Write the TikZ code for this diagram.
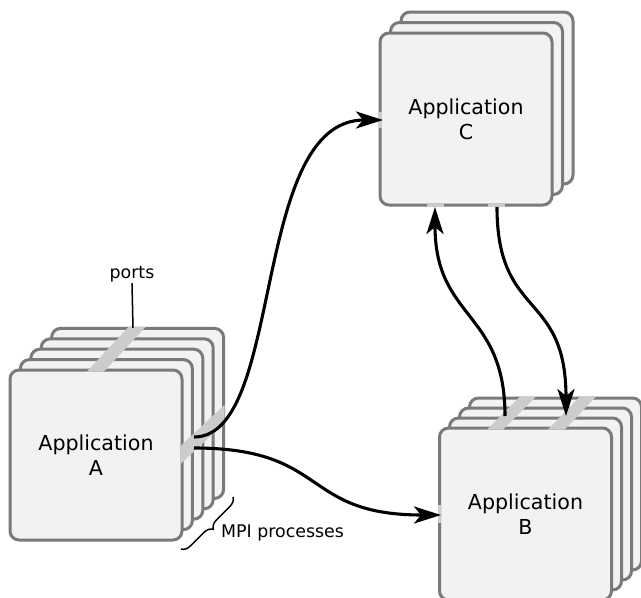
\documentclass[tikz,border=0pt]{standalone}
\usepackage{fontspec}
\setmainfont{DejaVu Sans}
\usetikzlibrary{arrows.meta,decorations.pathreplacing}
\definecolor{boxline}{RGB}{122,122,122}
\definecolor{boxfill}{RGB}{242,242,242}
\definecolor{portcol}{RGB}{204,204,204}
\begin{document}
\begin{tikzpicture}[x=1pt,y=-1pt,
  procbox/.style={draw=boxline, fill=boxfill, line width=3pt, rounded corners=9pt,
    minimum width=172pt, minimum height=172pt, inner sep=0pt,
    font=\fontsize{20.6}{25}\selectfont, align=center},
  portband/.style={fill=portcol, draw=none},
  flow/.style={line width=3.1pt, -{Stealth[length=27pt,width=17pt,inset=7pt]}},
  lbl/.style={font=\fontsize{17.4}{20}\selectfont, inner sep=1pt}]
\useasboundingbox (0,0) rectangle (641,598);

% Application A stack
\foreach \k in {4,3,2,1}
  \node[procbox, minimum height=170pt] (A\k) at (96+10.4*\k, 455-10.4*\k) {};
\node[procbox, minimum height=170pt] (A) at (96,455) {Application\\A};

% Application C stack
\foreach \k in {2,1}
  \node[procbox] (C\k) at (466+10.5*\k, 119-10.5*\k) {};
\node[procbox] (C) at (466,119) {Application\\C};

% Application B stack
\foreach \k in {3,2,1}
  \node[procbox] (B\k) at (525.5+10*\k, 514-10*\k) {};
\node[procbox] (B) at (525.5,514) {Application\\B};

% ports
\fill[portband] (87,371.5) -- (104,371.5) -- (146,326.5) -- (129,326.5) -- cycle;
\fill[portband] (180.5,446) -- (180.5,464) -- (224.5,423) -- (224.5,405) -- cycle;
\fill[portband] (378.5,112) rectangle (381.5,128);
\fill[portband] (427,203.5) rectangle (444,206.5);
\fill[portband] (488,203.5) rectangle (505,206.5);
\fill[portband] (437.5,505) rectangle (440.5,523);
\fill[portband] (487,429.5) -- (503,429.5) -- (536,396.5) -- (520,396.5) -- cycle;
\fill[portband] (548,429.5) -- (565,429.5) -- (596,396.5) -- (580,396.5) -- cycle;

% port coordinates
\coordinate (aportT) at (133,328);
\coordinate (aportR1) at (194,437);
\coordinate (aportR2) at (194,448);
\coordinate (cportL) at (383,120);
\coordinate (bportL) at (441,515);
\coordinate (cportB1) at (435,207);
\coordinate (cportB2) at (497,207);
\coordinate (bportT1) at (505,416);
\coordinate (bportT2) at (566,416);

% connectors
\draw[flow] (aportR1) .. controls (285,437) and (250,120) .. (cportL);
\draw[flow] (aportR2) .. controls (330,448) and (300,515) .. (bportL);
\draw[flow] (bportT1) .. controls (505,310) and (435,320) .. (cportB1);
\draw[flow] (cportB2) .. controls (497,320) and (566,290) .. (bportT2);

% labels
\node[lbl] (portslbl) at (132,274) {ports};
\draw[line width=1.5pt] (portslbl.south) -- (aportT);
\node[lbl, anchor=west] (mpilbl) at (220,533) {MPI processes};
\draw[line width=1.5pt, decorate, decoration={brace, amplitude=9pt}] (233,497) -- (181,549);
\end{tikzpicture}
\end{document}
